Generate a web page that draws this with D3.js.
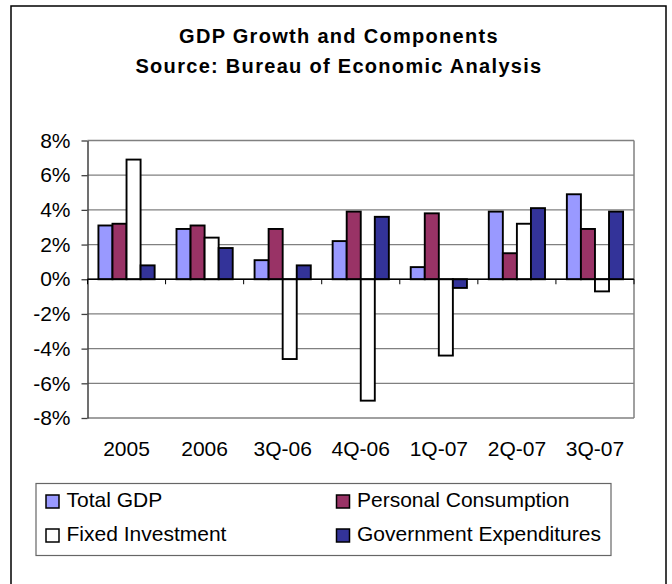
<!DOCTYPE html>
<html>
<head>
<meta charset="utf-8">
<script src="https://cdn.jsdelivr.net/npm/d3@7"></script>
<style>
  html, body { margin: 0; padding: 0; background: #fff; }
  svg { display: block; font-family: "Liberation Sans", Arial, sans-serif; }
</style>
</head>
<body>
<svg id="chart" width="672" height="584"></svg>
<script>
// Quarterly / annual periods on the x axis
const categories = ["2005", "2006", "3Q-06", "4Q-06", "1Q-07", "2Q-07", "3Q-07"];

// Growth rates, percent
const totalGdp = [3.1, 2.9, 1.1, 2.2, 0.7, 3.9, 4.9];
const personalConsumption = [3.2, 3.1, 2.9, 3.9, 3.8, 1.5, 2.9];
const fixedInvestment = [6.9, 2.4, -4.6, -7.0, -4.4, 3.2, -0.7];
const governmentExpenditures = [0.8, 1.8, 0.8, 3.6, -0.5, 4.1, 3.9];

const seriesNames = ["Total GDP", "Personal Consumption", "Fixed Investment", "Government Expenditures"];
const seriesColors = ["#9999ff", "#993366", "#ffffff", "#333399"];
const yTicks = [-8, -6, -4, -2, 0, 2, 4, 6, 8];

const seriesValues = [totalGdp, personalConsumption, fixedInvestment, governmentExpenditures];
const rows = categories.map((c, i) => ({
  cat: c,
  vals: seriesNames.map((s, k) => ({ key: s, value: seriesValues[k][i], color: seriesColors[k] }))
}));

const svg = d3.select("#chart");

// outer frame
svg.append("rect")
  .attr("x", 11).attr("y", 6).attr("width", 655).attr("height", 600)
  .attr("fill", "#fff").attr("stroke", "#000").attr("stroke-width", 1.5);

// title
const title = svg.append("text")
  .attr("x", 339).attr("text-anchor", "middle")
  .attr("font-size", 20).attr("font-weight", "bold")
  .attr("letter-spacing", "1.3px").attr("fill", "#000");
title.append("tspan").attr("x", 339).attr("y", 43).text("GDP Growth and Components");
title.append("tspan").attr("x", 339).attr("y", 72.5).text("Source: Bureau of Economic Analysis");

// plot area
const plot = { left: 87.5, right: 634, top: 140.5, bottom: 418 };

const y = d3.scaleLinear().domain([-8, 8]).range([plot.bottom, plot.top]);
const x0 = d3.scaleBand().domain(categories)
  .range([plot.left, plot.right]).paddingInner(0.28).paddingOuter(0.14);
const x1 = d3.scaleBand().domain(seriesNames).range([0, x0.bandwidth()]);

// gridlines
svg.append("g").selectAll("line").data(yTicks).join("line")
  .attr("x1", plot.left).attr("x2", plot.right)
  .attr("y1", d => y(d)).attr("y2", d => y(d))
  .attr("stroke", "#808080").attr("stroke-width", 1.3);

// plot border on the right
svg.append("line")
  .attr("x1", plot.right).attr("x2", plot.right)
  .attr("y1", plot.top).attr("y2", plot.bottom)
  .attr("stroke", "#808080").attr("stroke-width", 1.5);

// y axis
const yAxis = svg.append("g")
  .attr("transform", `translate(${plot.left},0)`)
  .call(d3.axisLeft(y).tickValues(yTicks).tickFormat(d => d + "%")
    .tickSize(6).tickSizeOuter(0).tickPadding(11));
yAxis.select(".domain").attr("stroke", "#404040").attr("stroke-width", 1.5);
yAxis.selectAll(".tick line").attr("stroke", "#404040").attr("stroke-width", 1.3);
yAxis.selectAll(".tick text")
  .attr("font-size", 21).attr("fill", "#000")
  .attr("font-family", "'Liberation Sans', Arial, sans-serif");

// bars
const groups = svg.append("g").selectAll("g").data(rows).join("g")
  .attr("transform", d => `translate(${x0(d.cat)},0)`);
groups.selectAll("rect").data(d => d.vals).join("rect")
  .attr("x", d => x1(d.key))
  .attr("width", x1.bandwidth())
  .attr("y", d => y(Math.max(0, d.value)))
  .attr("height", d => Math.abs(y(d.value) - y(0)))
  .attr("fill", d => d.color)
  .attr("stroke", "#000").attr("stroke-width", 1.9);

// zero axis with category boundary ticks
const step = x0.step();
const boundaries = d3.range(categories.length + 1).map(i => plot.left + i * step);
svg.append("line")
  .attr("x1", plot.left).attr("x2", plot.right)
  .attr("y1", y(0)).attr("y2", y(0))
  .attr("stroke", "#000").attr("stroke-width", 1.3);
svg.append("g").selectAll("line").data(boundaries).join("line")
  .attr("x1", d => d).attr("x2", d => d)
  .attr("y1", y(0)).attr("y2", y(0) + 5)
  .attr("stroke", "#000").attr("stroke-width", 1);

// category labels
svg.append("g").selectAll("text").data(categories).join("text")
  .attr("x", d => x0(d) + x0.bandwidth() / 2)
  .attr("y", 456)
  .attr("text-anchor", "middle")
  .attr("font-size", 21).attr("fill", "#000")
  .text(d => d);

// legend
const legend = svg.append("g");
legend.append("rect")
  .attr("x", 36).attr("y", 483.5).attr("width", 575).attr("height", 72)
  .attr("fill", "#fff").attr("stroke", "#666").attr("stroke-width", 1.2);

const legendCols = [46, 336.5];
const legendRows = [495, 529];
const items = seriesNames.map((s, k) => ({
  name: s, color: seriesColors[k],
  x: legendCols[k % 2], y: legendRows[Math.floor(k / 2)]
}));
const li = legend.selectAll("g.item").data(items).join("g").attr("class", "item");
li.append("rect")
  .attr("x", d => d.x).attr("y", d => d.y)
  .attr("width", 13).attr("height", 13)
  .attr("fill", d => d.color).attr("stroke", "#000").attr("stroke-width", 1.5);
li.append("text")
  .attr("x", d => d.x + 20.5).attr("y", d => d.y + 11.5)
  .attr("font-size", 21).attr("fill", "#000")
  .text(d => d.name);
</script>
</body>
</html>
